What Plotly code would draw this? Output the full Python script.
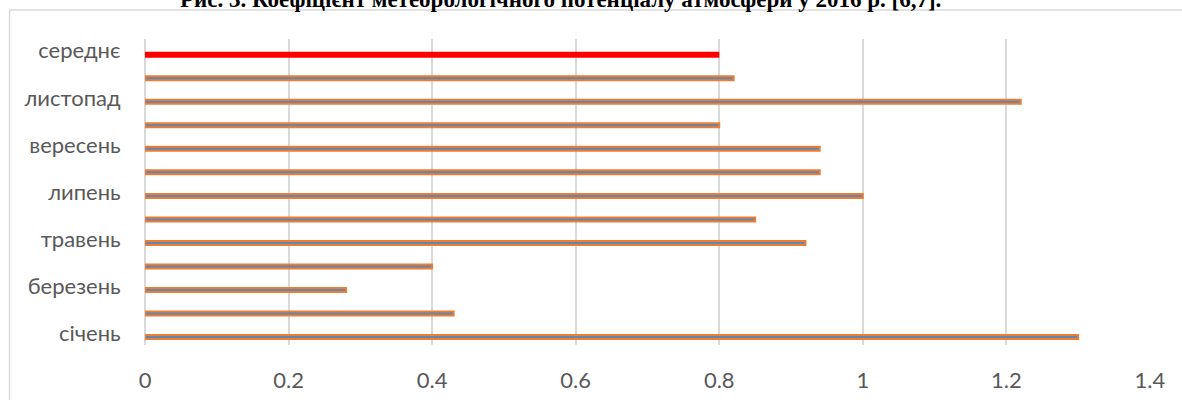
import plotly.graph_objects as go

categories = ["січень", "лютий", "березень", "квітень", "травень", "червень",
              "липень", "серпень", "вересень", "жовтень", "листопад", "грудень", "середнє"]
month_names = categories[:12]
month_values = [1.30, 0.43, 0.28, 0.40, 0.92, 0.85, 1.00, 0.94, 0.94, 0.80, 1.22, 0.82]
mean_name = ["середнє"]
mean_value = [0.80]
shown_labels = ["січень", "березень", "травень", "липень", "вересень", "листопад", "середнє"]
x_ticks = [0, 0.2, 0.4, 0.6, 0.8, 1.0, 1.2, 1.4]
x_ticktext = ["0", "0.2", "0.4", "0.6", "0.8", "1", "1.2", "1.4"]
title_text = "Рис. 3. Коефіцієнт метеорологічного потенціалу атмосфери у 2016 р. [6,7]."

W, H = 1182, 400
ml, mr, mt, mb = 144.5, 32.3, 39, 55
pw = W - ml - mr
ph = H - mt - mb

fig = go.Figure()
fig.add_trace(go.Bar(
    y=month_names, x=month_values, orientation="h",
    width=0.17, offset=-0.25,
    marker=dict(color="#5F87B5", line=dict(color="#ED7D31", width=2)),
    hoverinfo="x+y", showlegend=False,
))
fig.add_trace(go.Bar(
    y=mean_name, x=mean_value, orientation="h",
    width=0.255, offset=-0.2925,
    marker=dict(color="#FF0000", line=dict(width=0)),
    hoverinfo="x+y", showlegend=False,
))

grid = "#D9D9D9"
fig.update_layout(
    width=W, height=H,
    margin=dict(l=ml, r=mr, t=mt, b=mb, pad=0, autoexpand=False),
    paper_bgcolor="white", plot_bgcolor="white",
    barmode="overlay",
    font=dict(family="Lato, Carlito, sans-serif", size=22, color="#595959"),
    xaxis=dict(
        range=[0, 1.4001], tickvals=x_ticks, ticktext=x_ticktext,
        showgrid=True, gridcolor=grid, gridwidth=1.5,
        zeroline=True, zerolinecolor=grid, zerolinewidth=1.5,
        showline=False, ticks="outside", ticklen=16, tickcolor="rgba(0,0,0,0)",
        tickfont=dict(size=22, color="#595959"), fixedrange=True, automargin=False,
    ),
    yaxis=dict(
        type="category", categoryorder="array", categoryarray=categories,
        range=[-0.5, 12.5],
        tickmode="array", tickvals=shown_labels, ticktext=shown_labels,
        showgrid=False, zeroline=False, showline=False,
        ticks="outside", ticklen=19, tickcolor="rgba(0,0,0,0)",
        tickfont=dict(size=22, color="#595959"), fixedrange=True, automargin=False,
    ),
    shapes=[dict(
        type="rect", xref="paper", yref="paper",
        x0=(9 - ml) / pw, x1=1 + (mr + 20) / pw,
        y0=-(mb + 20) / ph, y1=1 + (mt - 10) / ph,
        line=dict(color=grid, width=1.5), fillcolor="rgba(0,0,0,0)", layer="below",
    )],
    annotations=[dict(
        text="<b>" + title_text + "</b>", xref="paper", yref="paper",
        x=(560 - ml) / pw, y=1 + (mt - 14) / ph, xanchor="center", yanchor="bottom",
        showarrow=False,
        font=dict(family="Liberation Serif, Times New Roman, serif", size=23, color="#000000"),
    )],
)

fig.write_html("out.html", config={"displayModeBar": False},
               post_script="document.body.style.margin='0';document.body.style.overflow='hidden';")
